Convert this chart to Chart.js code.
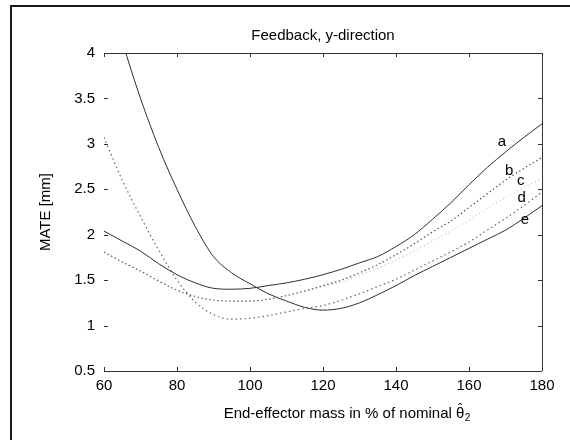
<!DOCTYPE html>
<html>
<head>
<meta charset="utf-8">
<script src="https://cdn.jsdelivr.net/npm/chart.js@4.4.1/dist/chart.umd.min.js"></script>
<style>
  html, body { margin: 0; padding: 0; background: #fff; }
  #wrap { position: relative; width: 570px; height: 440px; }
  #frame { position: absolute; left: 10px; top: 5px; right: 0; bottom: 0;
           border-left: 2px solid #1a1a1a; border-top: 2px solid #1a1a1a; pointer-events: none; }
</style>
</head>
<body>
<div id="wrap">
  <canvas id="mateChart" width="570" height="440"></canvas>
  <div id="frame"></div>
</div>
<script>
// end-effector mass in % of nominal
var mass = [60, 65, 70, 75, 80, 85, 90, 95, 100, 105, 110, 115, 120, 125, 130, 135, 140, 145, 150, 155, 160, 165, 170, 175, 180];

// MATE [mm] per curve
var curveA = [2.04, 1.93, 1.82, 1.68, 1.56, 1.47, 1.41, 1.40, 1.41, 1.44, 1.47, 1.51, 1.56, 1.62, 1.69, 1.76, 1.87, 2.00, 2.17, 2.35, 2.55, 2.74, 2.91, 3.07, 3.22];
var curveB = [1.81, 1.70, 1.60, 1.49, 1.39, 1.32, 1.28, 1.27, 1.27, 1.29, 1.33, 1.38, 1.44, 1.50, 1.58, 1.67, 1.78, 1.90, 2.03, 2.15, 2.30, 2.45, 2.60, 2.73, 2.85];
var curveC = [null, null, null, null, null, null, null, null, null, null, null, 1.38, 1.43, 1.48, 1.55, 1.63, 1.72, 1.82, 1.93, 2.04, 2.16, 2.29, 2.41, 2.52, 2.62];
var curveD = [3.07, 2.60, 2.20, 1.83, 1.50, 1.26, 1.12, 1.07, 1.08, 1.11, 1.15, 1.19, 1.22, 1.28, 1.35, 1.43, 1.51, 1.61, 1.71, 1.81, 1.92, 2.05, 2.18, 2.32, 2.47];
var curveE = [null, 4.12, 3.50, 2.96, 2.50, 2.09, 1.76, 1.58, 1.46, 1.35, 1.27, 1.20, 1.17, 1.19, 1.25, 1.34, 1.44, 1.55, 1.65, 1.75, 1.85, 1.95, 2.05, 2.18, 2.32];

var xTicks = [60, 80, 100, 120, 140, 160, 180];
var yTicks = [0.5, 1, 1.5, 2, 2.5, 3, 3.5, 4];

// curve names and where they sit (data units)
var curveNames = ["a", "b", "c", "d", "e"];
var nameX = [169.0, 171.0, 174.2, 174.4, 175.3];
var nameY = [3.02, 2.70, 2.59, 2.41, 2.16];

var FONT = '"Liberation Sans", Arial, sans-serif';

function pts(ys) {
    return mass.map(function (m, i) { return { x: m, y: ys[i] }; });
}

function line(ys, color, dash, width) {
    return {
        data: pts(ys),
        borderColor: color,
        borderWidth: width,
        borderDash: dash,
        pointRadius: 0,
        fill: false,
        cubicInterpolationMode: "monotone",
        spanGaps: false,
    };
}

var framePlugin = {
    id: "frame",
    afterDatasetsDraw: function (chart) {
        var c = chart.ctx, a = chart.chartArea, xs = chart.scales.x, ys = chart.scales.y;
        c.save();
        c.strokeStyle = "#333";
        c.lineWidth = 1;
        c.beginPath();
        c.moveTo(a.left, a.top + 0.5); c.lineTo(a.right, a.top + 0.5);
        c.moveTo(a.left, a.bottom + 0.5); c.lineTo(a.right, a.bottom + 0.5);
        c.moveTo(a.right + 0.5, a.top); c.lineTo(a.right + 0.5, a.bottom);
        xTicks.forEach(function (v) {
            var p = Math.round(xs.getPixelForValue(v)) + 0.5;
            c.moveTo(p, a.bottom); c.lineTo(p, a.bottom - 4);
            c.moveTo(p, a.top); c.lineTo(p, a.top + 4);
        });
        yTicks.forEach(function (v) {
            var p = Math.round(ys.getPixelForValue(v)) + 0.5;
            c.moveTo(a.left, p); c.lineTo(a.left + 4, p);
            c.moveTo(a.right, p); c.lineTo(a.right - 4, p);
        });
        c.stroke();

        // curve labels
        c.fillStyle = "#000";
        c.font = "15px " + FONT;
        c.textAlign = "center";
        c.textBaseline = "middle";
        curveNames.forEach(function (n, i) {
            c.fillText(n, xs.getPixelForValue(nameX[i]), ys.getPixelForValue(nameY[i]));
        });

        // x axis title with theta-hat subscript 2
        var main = "End-effector mass in % of nominal \u03b8";
        c.textAlign = "left";
        c.textBaseline = "alphabetic";
        var w = c.measureText(main).width;
        var x0 = (a.left + a.right) / 2 + 24 - (w + 6) / 2;
        var yb = a.bottom + 47;
        c.fillText(main, x0, yb);
        var tw = c.measureText("\u03b8").width;
        c.font = "13px " + FONT;
        c.textAlign = "center";
        c.fillText("\u02c6", x0 + w - tw / 2, yb - 5);
        c.font = "10px " + FONT;
        c.textAlign = "left";
        c.fillText("2", x0 + w + 0.5, yb + 3);

        // y axis title
        c.font = "15px " + FONT;
        c.textAlign = "center";
        c.textBaseline = "middle";
        c.translate(46, (a.top + a.bottom) / 2);
        c.rotate(-Math.PI / 2);
        c.fillText("MATE [mm]", 0, 0);
        c.restore();
    },
};

var ctx = document.getElementById("mateChart").getContext("2d");
var mateChart = new Chart(ctx, {
    type: "line",
    data: {
        datasets: [
            line(curveA, "#2e2e2e", [], 1),
            line(curveB, "#555", [1.5, 2.5], 1.2),
            line(curveC, "#aaa", [1, 3], 1),
            line(curveD, "#666", [1.5, 3], 1.2),
            line(curveE, "#2e2e2e", [], 1),
        ],
    },
    options: {
        responsive: false,
        animation: false,
        layout: { padding: { left: 0, right: 28, top: 0, bottom: 0 } },
        plugins: {
            legend: { display: false },
            tooltip: { enabled: false },
            title: {
                display: true,
                fullSize: false,
                text: "Feedback, y-direction",
                color: "#000",
                font: { family: FONT, size: 15, weight: "normal" },
                padding: { top: 27, bottom: 8 },
            },
        },
        scales: {
            x: {
                type: "linear",
                min: 60,
                max: 180,
                afterFit: function (s) { s.height = 69; },
                afterBuildTicks: function (s) { s.ticks = xTicks.map(function (v) { return { value: v }; }); },
                ticks: {
                    color: "#000", font: { family: FONT, size: 15 }, padding: 6, maxRotation: 0,
                    callback: function (v) { return String(v); },
                },
                grid: { display: false, drawTicks: false },
                border: { display: false },
            },
            y: {
                type: "linear",
                min: 0.5,
                max: 4,
                afterFit: function (s) { s.width = 104; },
                afterBuildTicks: function (s) { s.ticks = yTicks.map(function (v) { return { value: v }; }); },
                ticks: {
                    color: "#000", font: { family: FONT, size: 15 }, padding: 9,
                    callback: function (v) { return String(v); },
                },
                grid: { display: false, drawTicks: false },
                border: { display: false },
            },
        },
    },
    plugins: [framePlugin],
});
</script>
</body>
</html>
